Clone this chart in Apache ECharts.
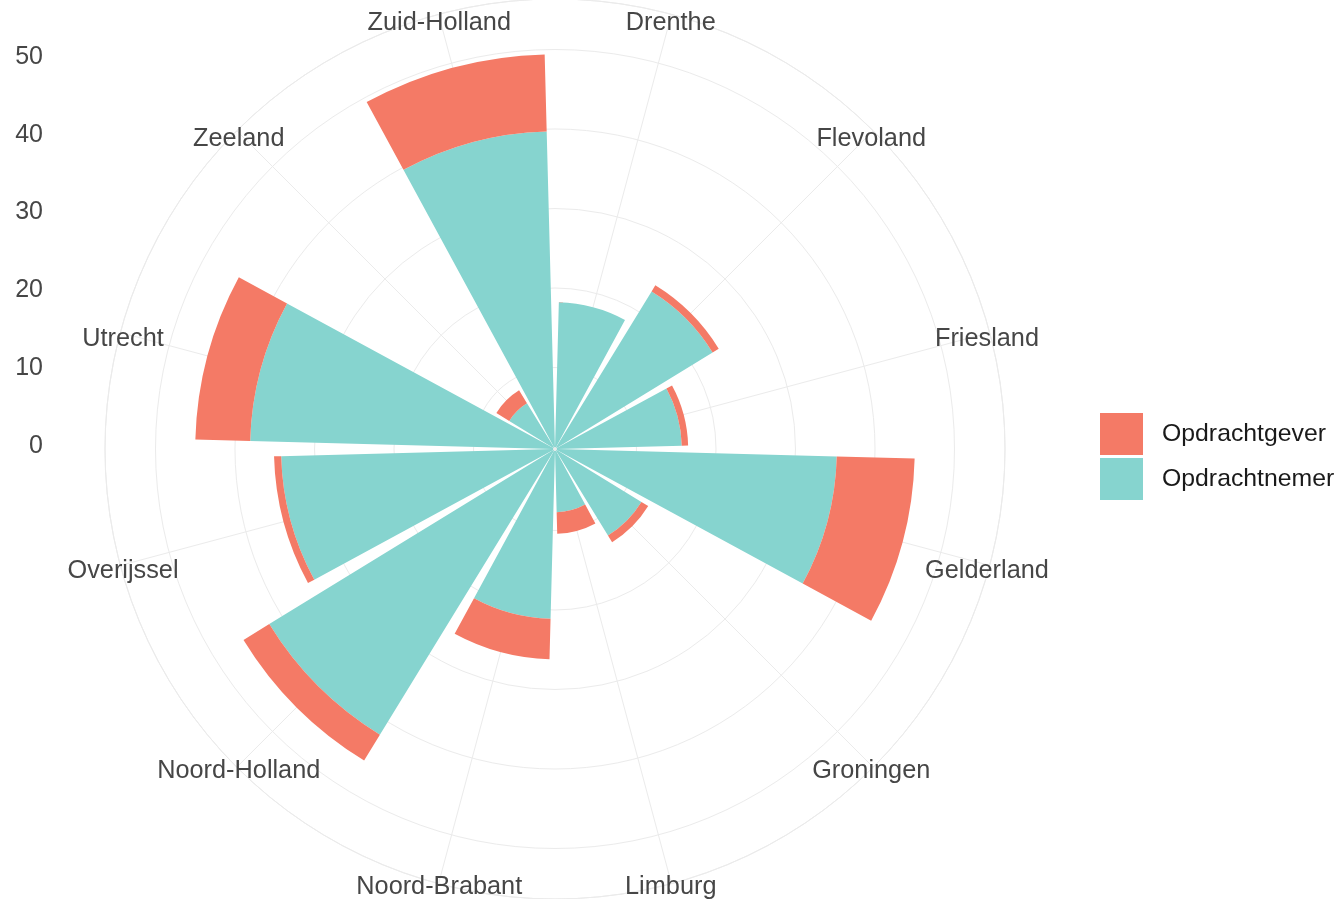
<!DOCTYPE html>
<html>
<head>
<meta charset="utf-8">
<script src="https://cdn.jsdelivr.net/npm/echarts@6/dist/echarts.min.js"></script>
<style>
  html, body { margin: 0; padding: 0; background: #ffffff; }
  #chart { width: 1340px; height: 899px; }
</style>
</head>
<body>
<div id="chart"></div>
<script>
const provinces = ['Drenthe', 'Flevoland', 'Friesland', 'Gelderland', 'Groningen', 'Limburg',
                   'Noord-Brabant', 'Noord-Holland', 'Overijssel', 'Utrecht', 'Zeeland', 'Zuid-Holland'];
const opdrachtnemer = [18.2, 23.0, 15.7, 35.2, 12.5, 7.7, 21.1, 41.9, 34.2, 38.1, 6.5, 39.7];
const opdrachtgever = [0, 0.9, 0.8, 9.8, 1.0, 2.7, 5.1, 3.8, 0.9, 6.9, 1.9, 9.7];

// radius scale: ggplot leaves a bit of room round 0 and outside the last break
const rMin = -0.25;
const rMax = 56.35;

const font = "'Liberation Sans', Arial, sans-serif";
const gridColor = '#ebebeb';
const textGrey = '#464646';

const chart = echarts.init(document.getElementById('chart'));

chart.setOption({
   animation: false,
   backgroundColor: '#ffffff',
   textStyle: { fontFamily: font },
   legend:
   {
      data: ['Opdrachtgever', 'Opdrachtnemer'],
      orient: 'vertical',
      left: 1100,
      top: 413,
      padding: 0,
      icon: 'rect',
      itemWidth: 43,
      itemHeight: 42,
      itemGap: 3,
      selectedMode: false,
      textStyle: { fontSize: 24.8, color: '#1a1a1a', fontFamily: font, padding: [0, 0, 0, 14] }
   },
   polar: { center: [555, 449], radius: [0, 450] },
   angleAxis:
   {
      type: 'category',
      data: provinces,
      startAngle: 90,
      clockwise: true,
      axisLine: { lineStyle: { color: gridColor, width: 1 } },
      axisTick: { show: false, alignWithLabel: true },
      axisLabel: { show: false },
      splitLine: { show: true, lineStyle: { color: gridColor, width: 1 } }
   },
   radiusAxis:
   {
      type: 'value',
      min: rMin,
      max: rMax,
      splitNumber: 5,
      axisLine: { show: false },
      axisTick: { show: false },
      axisLabel: { show: false },
      splitLine: { show: true, lineStyle: { color: gridColor, width: 1 } }
   },
   // left column of radius labels, same as ggplot puts them
   grid: { left: 51, top: 57, bottom: 453, width: 10 },
   xAxis: { type: 'value', show: false },
   yAxis:
   {
      type: 'value',
      min: 0,
      max: 50,
      interval: 10,
      axisLine: { show: false },
      axisTick: { show: false },
      splitLine: { show: false },
      axisLabel: { fontSize: 25, color: textGrey, margin: 8, fontFamily: font }
   },
   series:
   [
      {
         name: 'Opdrachtnemer',
         type: 'bar',
         coordinateSystem: 'polar',
         stack: 'totaal',
         barCategoryGap: '10%',
         itemStyle: { color: '#86d4cf' },
         data: opdrachtnemer
      },
      {
         name: 'Opdrachtgever',
         type: 'bar',
         coordinateSystem: 'polar',
         stack: 'totaal',
         barCategoryGap: '10%',
         itemStyle: { color: '#f47a66' },
         data: opdrachtgever
      },
      {
         // province names centred just inside the outer ring
         name: 'labels',
         type: 'scatter',
         coordinateSystem: 'polar',
         symbolSize: 0,
         clip: false,
         silent: true,
         z: 5,
         itemStyle: { opacity: 1 },
         label:
         {
            show: true,
            position: 'inside',
            formatter: '{b}',
            fontSize: 25.3,
            color: textGrey,
            opacity: 1,
            fontFamily: font,
            offset: [0, 6]
         },
         data: provinces.map((p, i) => ({ name: p, value: [rMax - 0.35, i] }))
      }
   ]
});
</script>
</body>
</html>
